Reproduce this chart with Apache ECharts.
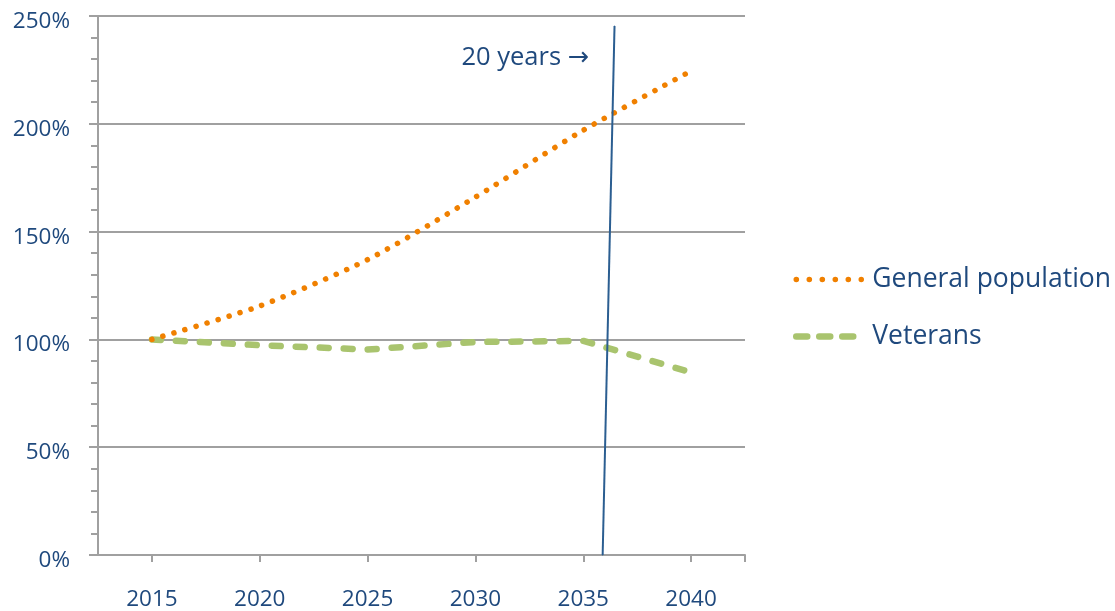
<!DOCTYPE html>
<html>
<head>
<meta charset="utf-8">
<script src="https://cdn.jsdelivr.net/npm/echarts@6/dist/echarts.min.js"></script>
<style>
  html, body { margin: 0; padding: 0; background: #ffffff; }
  #chart { width: 1115px; height: 611px; }
</style>
</head>
<body>
<div id="chart"></div>
<script>
// Projected change relative to 2015 (2015 = 100%)
const years = [2015, 2020, 2025, 2030, 2035, 2040];
const generalPopulation = [100, 115.5, 137, 166, 197, 224.5];
const veterans = [100, 97.3, 95.3, 98.8, 99.3, 84.7];
const seriesNames = ['General population', 'Veterans'];

// Marker line for the 20-year point (year, percent)
const markerYears = [2035.9, 2036.45];
const markerValues = [0, 245.4];
const markerText = '20 years \u2192';

const yTicks = [0, 50, 100, 150, 200, 250];
const xTickEnd = 2042.5;

const textColor = '#1f497d';
const gridColor = '#a0a0a0';
const orange = '#f08000';
const green = '#a9c46e';
const fontFamily = '"Open Sans", "DejaVu Sans", sans-serif';

const chart = echarts.init(document.getElementById('chart'), null, { renderer: 'canvas' });

const pairs = (xs, ys) => xs.map((x, i) => [x, ys[i]]);

chart.setOption({
  animation: false,
  backgroundColor: '#ffffff',
  textStyle: { fontFamily: fontFamily },
  grid: { left: 98, right: 370, top: 15, bottom: 56, containLabel: false },
  legend: {
    data: [
      {
        name: seriesNames[0],
        lineStyle: { color: orange, width: 5.5, type: [0.1, 12.9], cap: 'round' }
      },
      {
        name: seriesNames[1],
        lineStyle: { color: green, width: 6.5, type: [11, 12], cap: 'round' }
      }
    ],
    orient: 'vertical',
    left: 793,
    top: 266,
    padding: 0,
    itemWidth: 65,
    itemHeight: 14,
    itemGap: 30,
    itemStyle: { opacity: 0 },
    textStyle: {
      color: textColor,
      fontSize: 26.5,
      fontFamily: fontFamily,
      padding: [0, 0, 0, 6]
    }
  },
  xAxis: {
    type: 'value',
    min: 2012.5,
    max: xTickEnd,
    interval: 5,
    axisLine: { show: true, onZero: false, lineStyle: { color: gridColor, width: 2 } },
    axisTick: {
      show: true,
      length: 7,
      customValues: years.concat([xTickEnd]),
      lineStyle: { color: gridColor, width: 2 }
    },
    axisLabel: {
      customValues: years,
      color: textColor,
      fontSize: 22.5,
      margin: 33,
      formatter: v => String(v)
    },
    splitLine: { show: false }
  },
  yAxis: {
    type: 'value',
    min: yTicks[0],
    max: yTicks[yTicks.length - 1],
    interval: 50,
    axisLine: { show: true, lineStyle: { color: gridColor, width: 2 } },
    axisTick: { show: true, length: 9, lineStyle: { color: gridColor, width: 2 } },
    minorTick: { show: true, splitNumber: 5, length: 7, lineStyle: { color: gridColor, width: 2 } },
    axisLabel: {
      color: textColor,
      margin: 28,
      // an empty spacer line above each label drops the text a few pixels below its gridline
      formatter: v => '{s| }\n{t|' + v + '%}',
      rich: {
        s: { fontSize: 8, lineHeight: 11 },
        t: { fontSize: 22.5, lineHeight: 24, color: textColor, fontFamily: fontFamily }
      }
    },
    splitLine: { show: true, lineStyle: { color: gridColor, width: 2 } }
  },
  series: [
    {
      name: seriesNames[0],
      type: 'line',
      data: pairs(years, generalPopulation),
      symbol: 'none',
      smooth: 0.25,
      color: orange,
      lineStyle: { color: orange, width: 5.5, type: [0.1, 11.4], cap: 'round' },
      z: 3
    },
    {
      name: seriesNames[1],
      type: 'line',
      data: pairs(years, veterans),
      symbol: 'none',
      color: green,
      lineStyle: { color: green, width: 6.5, type: [9, 15], cap: 'round' },
      z: 2
    },
    {
      name: 'marker',
      type: 'line',
      data: [
        [markerYears[0], markerValues[0]],
        {
          value: [markerYears[1], markerValues[1]],
          label: {
            show: true,
            position: 'left',
            offset: [-20, 32],
            formatter: markerText,
            color: textColor,
            fontSize: 25.5,
            fontFamily: fontFamily
          }
        }
      ],
      symbol: 'circle',
      symbolSize: 1,
      showSymbol: true,
      color: '#2b5e91',
      lineStyle: { color: '#2b5e91', width: 2 },
      z: 4
    }
  ]
});
</script>
</body>
</html>
